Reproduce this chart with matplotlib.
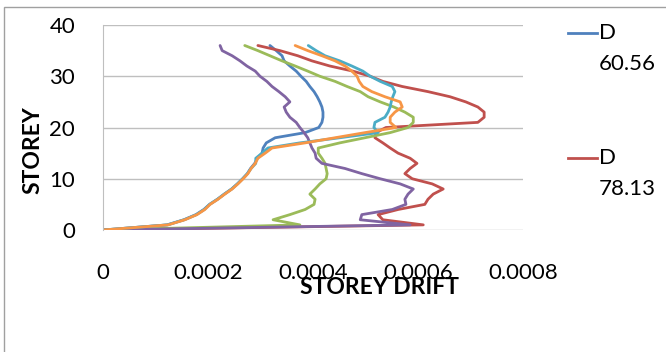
import matplotlib.pyplot as plt
from matplotlib.lines import Line2D
from matplotlib.patches import Rectangle

plt.rcParams['font.family'] = ['Lato', 'DejaVu Sans']

storey = list(range(37))

# storey drift per series, storey 0 .. 36
d_blue = [0, 0.000122, 0.000154, 0.000177, 0.000192, 0.000203, 0.000218, 0.000231, 0.000245,
          0.000256, 0.000266, 0.000275, 0.000281, 0.000289, 0.000294, 0.000303, 0.000305, 0.000311,
          0.000328, 0.000385, 0.000411, 0.000417, 0.000419, 0.000419, 0.000417, 0.000413, 0.000408,
          0.000402, 0.000394, 0.000387, 0.000377, 0.000368, 0.000356, 0.000345, 0.000341, 0.000330,
          0.000318]
d_red = [0, 0.000610, 0.000533, 0.000524, 0.000562, 0.000613, 0.000619, 0.000629, 0.000648,
         0.000627, 0.000589, 0.000575, 0.000585, 0.000598, 0.000585, 0.000562, 0.000547, 0.000533,
         0.000518, 0.000520, 0.000539, 0.000714, 0.000726, 0.000726, 0.000714, 0.000691, 0.000661,
         0.000619, 0.000570, 0.000533, 0.000509, 0.000476, 0.000432, 0.000398, 0.000371, 0.000337,
         0.000295]
d_green = [0, 0.000375, 0.000324, 0.000356, 0.000385, 0.000402, 0.000404, 0.000394, 0.000404,
           0.000413, 0.000425, 0.000427, 0.000425, 0.000423, 0.000417, 0.000410, 0.000410, 0.000451,
           0.000499, 0.000547, 0.000581, 0.000591, 0.000591, 0.000575, 0.000554, 0.000528, 0.000505,
           0.000490, 0.000465, 0.000442, 0.000413, 0.000390, 0.000366, 0.000341, 0.000318, 0.000295,
           0.000270]
d_purple = [0, 0.000585, 0.000490, 0.000493, 0.000551, 0.000577, 0.000575, 0.000581, 0.000591,
            0.000566, 0.000528, 0.000493, 0.000461, 0.000417, 0.000406, 0.000404, 0.000398, 0.000394,
            0.000390, 0.000383, 0.000375, 0.000368, 0.000356, 0.000349, 0.000345, 0.000356, 0.000347,
            0.000335, 0.000322, 0.000312, 0.000299, 0.000290, 0.000274, 0.000261, 0.000246, 0.000227,
            0.000223]
d_cyan = [0, 0.000123, 0.000155, 0.000178, 0.000193, 0.000203, 0.000218, 0.000231, 0.000245,
          0.000256, 0.000266, 0.000275, 0.000282, 0.000291, 0.000291, 0.000303, 0.000314, 0.000375,
          0.000451, 0.000524, 0.000516, 0.000518, 0.000537, 0.000543, 0.000547, 0.000549, 0.000552,
          0.000556, 0.000551, 0.000528, 0.000509, 0.000495, 0.000474, 0.000451, 0.000423, 0.000406,
          0.000391]
d_orange = [0, 0.000124, 0.000156, 0.000179, 0.000194, 0.000204, 0.000219, 0.000232, 0.000246,
            0.000257, 0.000267, 0.000276, 0.000282, 0.000290, 0.000295, 0.000309, 0.000322, 0.000385,
            0.000442, 0.000499, 0.000558, 0.000547, 0.000547, 0.000556, 0.000570, 0.000566, 0.000537,
            0.000512, 0.000495, 0.000488, 0.000484, 0.000474, 0.000461, 0.000442, 0.000417, 0.000390,
            0.000366]

series = [d_blue, d_red, d_green, d_purple, d_cyan, d_orange]
colors = ['#4F81BD', '#C0504D', '#9BBB59', '#8064A2', '#4BACC6', '#F79646']
xticks = [0, 0.0002, 0.0004, 0.0006, 0.0008]
xticklabels = ['0', '0.0002', '0.0004', '0.0006', '0.0008']
yticks = [0, 10, 20, 30, 40]

fig = plt.figure(figsize=(6.66, 3.52), dpi=100)
ax = fig.add_axes([103/666, 1 - 230/352, 420/666, 205/352])

for vals, c in zip(series, colors):
    ax.plot(vals, storey, color=c, linewidth=2.0, solid_joinstyle='round', solid_capstyle='round')

ax.set_xlim(0, 0.0008)
ax.set_ylim(0, 40)
ax.set_xticks(xticks)
ax.set_xticklabels(xticklabels)
ax.set_yticks(yticks)
ax.tick_params(length=0, labelsize=16, colors='black')
ax.tick_params(axis='x', pad=24)
ax.tick_params(axis='y', pad=20)
ax.grid(axis='y', color='#BFBFBF', linewidth=1)
ax.set_axisbelow(True)
for s in ['top', 'right', 'bottom']:
    ax.spines[s].set_visible(False)
ax.spines['left'].set_color('#BFBFBF')

# axis titles sit over the tick labels, as in the original
fig.text(380/666, 1 - 287/352, 'STOREY DRIFT', fontsize=16.5, fontweight='bold',
         ha='center', va='center')
fig.text(33/666, 1 - 150/352, 'STOREY', fontsize=16.5, fontweight='bold',
         rotation=90, ha='center', va='center')

# legend (only two entries visible in the original)
for (c, lab), ymid in zip([(colors[0], '60.56'), (colors[1], '78.13')], [33, 158]):
    yf = 1 - ymid/352
    fig.add_artist(Line2D([568/666, 597/666], [yf, yf], color=c, linewidth=2.0))
    fig.text(599/666, yf, 'D', fontsize=16, ha='left', va='center')
    fig.text(599/666, yf - 31/352, lab, fontsize=16, ha='left', va='center')

fig.add_artist(Rectangle((4/666, -0.1), 1.1, 1 - 7/352 + 0.1, transform=fig.transFigure,
                         fill=False, edgecolor='#A0A0A0', linewidth=1))

fig.savefig('out.png', dpi=100)
